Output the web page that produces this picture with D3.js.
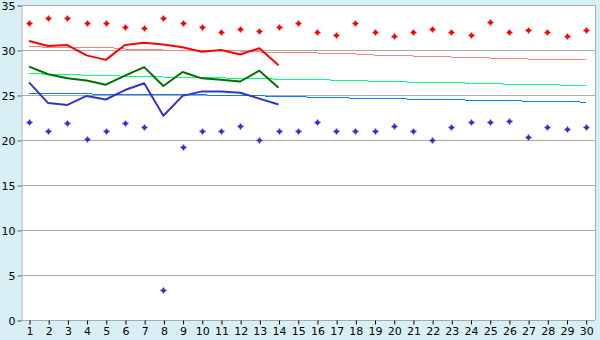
<!DOCTYPE html>
<html>
<head>
<meta charset="utf-8">
<script src="https://cdn.jsdelivr.net/npm/d3@7"></script>
<style>
  body { margin: 0; background: #d9eff6; }
  svg { display: block; }
  text { font-family: "DejaVu Sans", sans-serif; font-size: 11px; fill: #000; }
</style>
</head>
<body>
<svg width="600" height="340"></svg>
<script>
// days of the month
var days = d3.range(1, 31);
var yTicks = [0, 5, 10, 15, 20, 25, 30, 35];

// daily max / min (markers)
var maxTemp = [33, 33.5, 33.5, 33, 33, 32.5, 32.4, 33.5, 33, 32.5, 32, 32.3, 32.1, 32.5, 33,
  32, 31.7, 33, 32, 31.5, 32, 32.3, 32, 31.7, 33.1, 32, 32.2, 32, 31.5, 32.2];
var minTemp = [22, 21, 21.9, 20.1, 21, 21.9, 21.4, 3.3, 19.2, 21, 21, 21.5, 20, 21, 21,
  22, 21, 21, 21, 21.6, 21, 20, 21.4, 22, 22, 22.1, 20.3, 21.4, 21.2, 21.4];

// running lines (first 14 days)
var maxLine = [31, 30.45, 30.55, 29.4, 28.9, 30.55, 30.8, 30.6, 30.3, 29.8, 30, 29.5, 30.2, 28.3];
var avgLine = [28.15, 27.3, 26.85, 26.6, 26.15, 27.15, 28.1, 26, 27.55, 26.85, 26.7, 26.5, 27.7, 25.8];
var minLine = [26.4, 24.1, 23.9, 24.9, 24.5, 25.55, 26.3, 22.7, 24.9, 25.4, 25.4, 25.25, 24.6, 23.95];

// normals (thin lines)
var maxNorm = [30.41, 30.3, 30.3, 30.3, 30.3, 30.11, 30.11, 30, 30, 30, 29.95, 29.89, 29.78, 29.67, 29.67,
  29.67, 29.56, 29.56, 29.44, 29.44, 29.33, 29.33, 29.22, 29.22, 29.11, 29.11, 29, 29, 29, 29];
var avgNorm = [27.41, 27.3, 27.3, 27.19, 27.19, 27.08, 27.08, 27, 27, 26.96, 26.9, 26.85, 26.85, 26.75, 26.74,
  26.74, 26.63, 26.63, 26.52, 26.52, 26.41, 26.41, 26.41, 26.3, 26.3, 26.19, 26.19, 26.19, 26.07, 26.07];
var minNorm = [25.14, 25.14, 25.14, 25.14, 25.03, 25.03, 25.03, 25.03, 25.03, 25.03, 24.92, 24.92, 24.92, 24.81, 24.81,
  24.74, 24.74, 24.63, 24.63, 24.63, 24.52, 24.52, 24.52, 24.41, 24.41, 24.41, 24.3, 24.3, 24.3, 24.19];

var svg = d3.select('svg');
var padL = 21, padR = 595, padT = 5, padB = 320;

var x = d3.scaleLinear().domain([1, 30]).range([29, 585.7]);
var y = d3.scaleLinear().domain([0, 35]).range([padB, padT]);

// plot area
svg.append('rect')
  .attr('x', padL).attr('y', padT)
  .attr('width', padR - padL).attr('height', padB - padT)
  .attr('fill', '#fff');

// grid lines
svg.append('g')
  .selectAll('line')
  .data(yTicks.filter(function (d) { return d > 0; }))
  .enter().append('line')
  .attr('x1', padL).attr('x2', padR)
  .attr('y1', function (d) { return y(d) + 0.5; })
  .attr('y2', function (d) { return y(d) + 0.5; })
  .attr('stroke', '#aaa');

// right border
svg.append('line')
  .attr('x1', padR + 0.5).attr('x2', padR + 0.5)
  .attr('y1', padT).attr('y2', padB)
  .attr('stroke', '#aaa');

// y axis
var yAxis = svg.append('g')
  .attr('transform', 'translate(' + (padL + 0.5) + ',0.5)')
  .call(d3.axisLeft(y).tickValues(yTicks).tickSize(4).tickPadding(2));
yAxis.select('.domain').attr('stroke', '#aaa');
yAxis.selectAll('.tick line').attr('stroke', '#666');
yAxis.selectAll('text').attr('font-size', 11).attr('font-family', '"DejaVu Sans", sans-serif');

// x axis
var xAxis = svg.append('g')
  .attr('transform', 'translate(0.5,' + (padB + 0.5) + ')')
  .call(d3.axisBottom(x).tickValues(days).tickSize(4).tickPadding(3).tickSizeOuter(0));
xAxis.select('.domain').attr('stroke', '#aaa').attr('d', 'M' + (padL - 0.5) + ',0H' + (padR - 0.5));
xAxis.selectAll('.tick line').attr('stroke', '#000');
xAxis.selectAll('text').attr('font-size', 11).attr('font-family', '"DejaVu Sans", sans-serif');

var line = d3.line()
  .x(function (d, i) { return x(i + 1); })
  .y(function (d) { return y(d); });

// normals
[[maxNorm, '#ff8080'], [avgNorm, '#00ff80'], [minNorm, '#0080ff']].forEach(function (s) {
  svg.append('path')
    .attr('d', line(s[0]))
    .attr('fill', 'none')
    .attr('stroke', s[1])
    .attr('stroke-width', 1)
    .attr('shape-rendering', 'crispEdges');
});

// running lines
[[maxLine, '#ff0000'], [avgLine, '#007000'], [minLine, '#3333cc']].forEach(function (s) {
  svg.append('path')
    .attr('d', line(s[0]))
    .attr('fill', 'none')
    .attr('stroke', s[1])
    .attr('stroke-width', 2)
    .attr('stroke-linejoin', 'round');
});

// markers: small plus with a fat core
var plus = {
  draw: function (ctx) {
    var a = 0.7, c = 1.7, e = 3;
    var p = [[-a, -e], [a, -e], [a, -c], [c, -c], [c, -a], [e, -a],
      [e, a], [c, a], [c, c], [a, c], [a, e], [-a, e], [-a, c],
      [-c, c], [-c, a], [-e, a], [-e, -a], [-c, -a], [-c, -c], [-a, -c]];
    ctx.moveTo(p[0][0], p[0][1]);
    for (var i = 1; i < p.length; i++) ctx.lineTo(p[i][0], p[i][1]);
    ctx.closePath();
  }
};
var sym = d3.symbol().type(plus);
[[maxTemp, '#ff0000'], [minTemp, '#3333cc']].forEach(function (s) {
  svg.append('g')
    .selectAll('path')
    .data(s[0])
    .enter().append('path')
    .attr('d', sym)
    .attr('transform', function (d, i) {
      return 'translate(' + (Math.round(x(i + 1)) + 0.5) + ',' + (Math.round(y(d)) + 0.5) + ')';
    })
    .attr('fill', s[1]);
});
</script>
</body>
</html>
